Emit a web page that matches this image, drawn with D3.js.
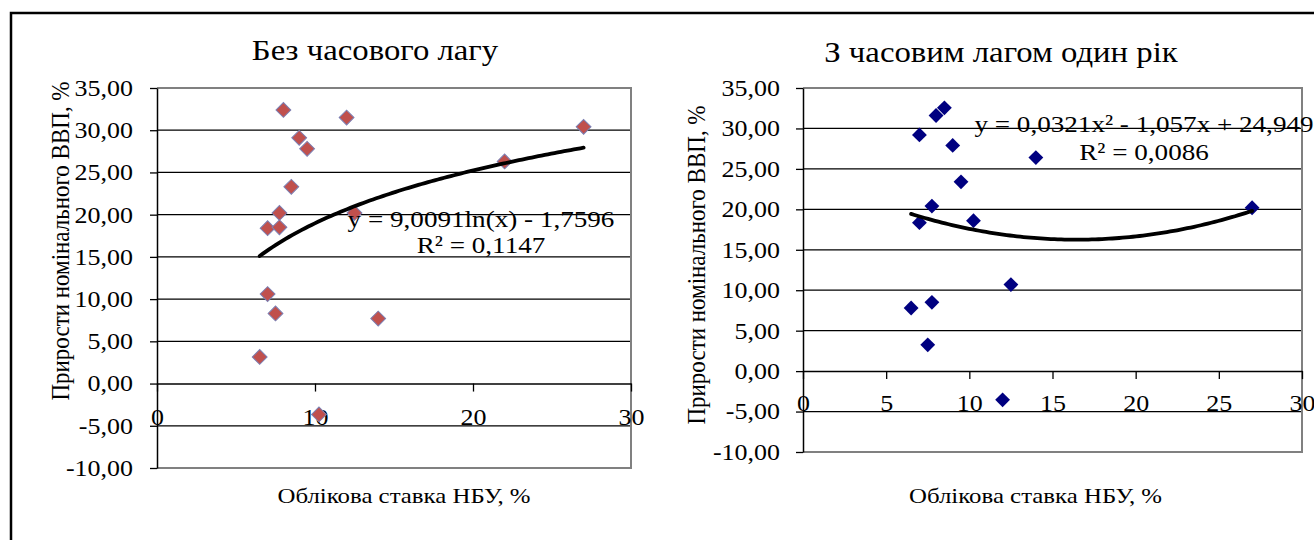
<!DOCTYPE html>
<html>
<head>
<meta charset="utf-8">
<script src="https://cdn.jsdelivr.net/npm/d3@7"></script>
<style>
  html, body { margin: 0; padding: 0; background: #fff; }
  svg { display: block; }
  svg text { font-family: "Liberation Serif", "Times New Roman", serif; fill: #000; }
</style>
</head>
<body>
<svg id="chart" width="1314" height="540"></svg>
<script>
// Облікова ставка НБУ (%) та прирости номінального ВВП (%)
const noLagRate   = [8.0, 12.0, 27.0, 9.0, 9.5, 22.0, 8.5, 7.75, 12.5, 7.0, 7.75, 7.0, 7.5, 14.0, 6.5, 10.25];
const noLagGrowth = [32.4, 31.5, 30.4, 29.1, 27.8, 26.3, 23.3, 20.2, 20.2, 18.4, 18.5, 10.6, 8.3, 7.7, 3.15, -3.66];

const lagRate   = [8.5, 8.0, 7.0, 9.0, 14.0, 9.5, 7.75, 27.0, 7.0, 10.25, 12.5, 6.5, 7.75, 7.5, 12.0];
const lagGrowth = [32.55, 31.6, 29.2, 27.9, 26.4, 23.4, 20.4, 20.2, 18.35, 18.6, 10.7, 7.8, 8.5, 3.25, -3.55];

// Коефіцієнти трендів
const logTrend  = [9.0091, -1.7596];          // y = a ln(x) + b
const polyTrend = [0.0321, -1.057, 24.949];   // y = a x² + b x + c

const yTicks = [-10, -5, 0, 5, 10, 15, 20, 25, 30, 35];
const xTicksLeft = [0, 10, 20, 30];
const xTicksRight = [0, 5, 10, 15, 20, 25, 30];

const titles = ["Без часового лагу", "З часовим лагом один рік"];
const equations = [["y = 9,0091ln(x) - 1,7596", "R² = 0,1147"],
                   ["y = 0,0321x² - 1,057x + 24,949", "R² = 0,0086"]];
const xTitle = "Облікова ставка НБУ, %";
const yTitle = "Прирости номінального ВВП, %";

const locale = d3.formatLocale({decimal: ",", thousands: " ", grouping: [3], currency: ["", ""], minus: "-"});
const fmtY = locale.format(".2f");

// шрифт діаграми трохи ширший за звичайний Times
const SX = 1.13;

const svg = d3.select("#chart");

function label(parent, x, y, str, size, anchor, rotate) {
  return parent.append("text")
    .attr("transform", `translate(${x},${y}) scale(${SX},1)` + (rotate ? ` rotate(${rotate})` : ""))
    .attr("text-anchor", anchor || "middle")
    .attr("font-size", size)
    .text(str);
}

// рамка малюнка
svg.append("path")
  .attr("d", "M11,540 V13 H1314")
  .attr("fill", "none").attr("stroke", "#000").attr("stroke-width", 2.5);

function panel(cfg) {
  const x = d3.scaleLinear().domain([0, 30]).range([cfg.left, cfg.right]);
  const y = d3.scaleLinear().domain([-10, 35]).range([cfg.bottom, cfg.top]);
  const g = svg.append("g");

  // сітка
  g.append("g").selectAll("line")
    .data(yTicks.filter(v => v > -10 && v < 35 && v !== 0))
    .join("line")
    .attr("x1", cfg.left).attr("x2", cfg.right)
    .attr("y1", d => y(d)).attr("y2", d => y(d))
    .attr("stroke", "#000").attr("stroke-width", 1.2);

  // межа області побудови
  g.append("path")
    .attr("d", `M${cfg.left},${cfg.top} H${cfg.right} V${cfg.bottom} H${cfg.left}`)
    .attr("fill", "none").attr("stroke", "#808080").attr("stroke-width", 2);

  // вісь Y
  const ya = g.append("g")
    .attr("transform", `translate(${cfg.left},0)`)
    .call(d3.axisLeft(y).tickValues(yTicks).tickFormat(fmtY).tickSize(7).tickSizeOuter(0))
    .attr("font-family", null).attr("font-size", 23);
  ya.select(".domain").attr("stroke", "#000").attr("stroke-width", 1.5);
  ya.selectAll(".tick line").attr("stroke", "#000").attr("stroke-width", 1.3);
  ya.selectAll(".tick text").attr("fill", "#000").attr("x", 0)
    .attr("transform", `translate(${-cfg.yGap},0) scale(${SX},1)`);

  // вісь X (на рівні нуля)
  const xa = g.append("g")
    .attr("transform", `translate(0,${y(0)})`)
    .call(d3.axisBottom(x).tickValues(cfg.xTicks).tickFormat(d3.format("d")).tickSize(8).tickSizeOuter(0))
    .attr("font-family", null).attr("font-size", 23);
  xa.select(".domain").attr("stroke", "#000").attr("stroke-width", 1.5);
  xa.selectAll(".tick line").attr("stroke", "#000").attr("stroke-width", 1.3);
  xa.selectAll(".tick text").attr("fill", "#000").attr("y", 0)
    .attr("transform", `translate(0,${cfg.xGap}) scale(${SX},1)`);

  // точки
  const marker = d3.symbol().type(d3.symbolSquare).size(cfg.markerSize);
  g.append("g").selectAll("path")
    .data(cfg.xs.map((v, i) => [v, cfg.ys[i]]))
    .join("path")
    .attr("d", marker)
    .attr("transform", d => `translate(${x(d[0])},${y(d[1])}) rotate(45)`)
    .attr("fill", cfg.fill)
    .attr("stroke", cfg.stroke).attr("stroke-width", cfg.stroke === "none" ? 0 : 1);

  // лінія тренду
  const x0 = d3.min(cfg.xs), x1 = d3.max(cfg.xs);
  const samples = d3.range(0, 101).map(i => x0 + (x1 - x0) * i / 100);
  const line = d3.line().x(d => x(d)).y(d => y(cfg.trend(d)));
  g.append("path")
    .attr("d", line(samples))
    .attr("fill", "none").attr("stroke", "#000").attr("stroke-width", 3.8)
    .attr("stroke-linecap", "round");

  // рівняння тренду
  label(g, cfg.eqX, cfg.eqY, cfg.eq[0], 24);
  label(g, cfg.eqX, cfg.eqY + cfg.eqGap, cfg.eq[1], 24);

  // заголовки
  label(g, cfg.titleX, cfg.titleY, cfg.title, 29);
  label(g, (cfg.left + cfg.right) / 2 + cfg.xTitleDx, cfg.xTitleY, xTitle, 22);
  label(g, cfg.yTitleX, cfg.yTitleY, yTitle, 23, "middle", -90);
}

panel({
  left: 157, right: 631, top: 88, bottom: 468,
  xTicks: xTicksLeft, xGap: 25, yGap: 24,
  xs: noLagRate, ys: noLagGrowth,
  fill: "#C0504D", stroke: "#7B7FB3", markerSize: 110,
  trend: v => logTrend[0] * Math.log(v) + logTrend[1],
  eq: equations[0], eqX: 481, eqY: 227, eqGap: 26,
  title: titles[0], titleX: 375, titleY: 60,
  xTitleY: 503, xTitleDx: 10, yTitleX: 69, yTitleY: 241
});

panel({
  left: 803, right: 1302, top: 88, bottom: 452,
  xTicks: xTicksRight, xGap: 24, yGap: 23,
  xs: lagRate, ys: lagGrowth,
  fill: "#000080", stroke: "none", markerSize: 110,
  trend: v => polyTrend[0] * v * v + polyTrend[1] * v + polyTrend[2],
  eq: equations[1], eqX: 1144, eqY: 132, eqGap: 28,
  title: titles[1], titleX: 1001, titleY: 62,
  xTitleY: 503, xTitleDx: -17, yTitleX: 705, yTitleY: 265
});
</script>
</body>
</html>
